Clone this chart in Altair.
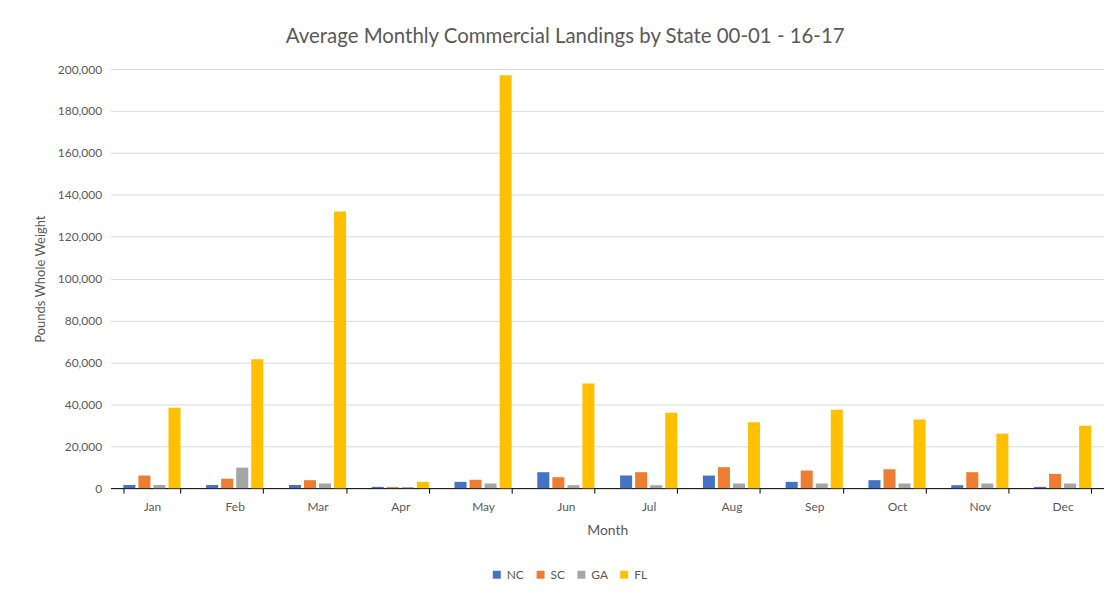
import altair as alt
import pandas as pd

months = ["Jan", "Feb", "Mar", "Apr", "May", "Jun", "Jul", "Aug", "Sep", "Oct", "Nov", "Dec"]
states = ["NC", "SC", "GA", "FL"]
nc = [1500, 1500, 1500, 600, 3000, 7600, 6000, 6000, 3000, 3800, 1400, 600]
sc = [6000, 4500, 3800, 500, 4000, 5200, 7600, 10000, 8400, 9000, 7600, 6800]
ga = [1500, 9800, 2200, 500, 2200, 1400, 1400, 2200, 2200, 2200, 2200, 2200]
fl = [38300, 61500, 132000, 3000, 197000, 49900, 36000, 31400, 37400, 32800, 26000, 29800]
colors = ["#4472C4", "#ED7D31", "#A5A5A5", "#FFC000"]
y_ticks = [0, 20000, 40000, 60000, 80000, 100000, 120000, 140000, 160000, 180000, 200000]

rows = []
for s, vals in zip(states, [nc, sc, ga, fl]):
    for m, v in zip(months, vals):
        rows.append({"Month": m, "State": s, "Value": v})
df = pd.DataFrame(rows)

FONT = "Lato"
TXT = "#595959"

chart = alt.Chart(df).mark_bar().encode(
    x=alt.X("Month:N", sort=months,
            scale=alt.Scale(paddingInner=0.31, paddingOuter=0.155),
            axis=alt.Axis(title="Month", labelAngle=0, tickBand="extent",
                          domainColor="#000000", tickColor="#000000",
                          tickSize=5, labelPadding=8, labelFontSize=12,
                          titleFontSize=14, titleFontWeight="normal",
                          titlePadding=12, labelColor=TXT, titleColor=TXT)),
    xOffset=alt.XOffset("State:N", sort=states,
                        scale=alt.Scale(paddingInner=0.2, paddingOuter=0)),
    y=alt.Y("Value:Q", scale=alt.Scale(domain=[0, 200000]),
            axis=alt.Axis(title="Pounds Whole Weight", format=",d",
                          values=y_ticks, labelOverlap=False,
                          domain=False, ticks=False, labelPadding=9,
                          gridColor="#D9D9D9", labelFontSize=12,
                          titleFontSize=13, titleFontWeight="normal",
                          titlePadding=10, labelColor=TXT, titleColor=TXT)),
    color=alt.Color("State:N", sort=states,
                    scale=alt.Scale(domain=states, range=colors),
                    legend=alt.Legend(title=None, orient="none", direction="horizontal",
                                      legendX=382, legendY=502, padding=0,
                                      symbolType="square", symbolSize=64,
                                      labelFontSize=12, labelColor=TXT,
                                      columnPadding=10)),
).properties(
    width=998, height=421,
    padding={"left": 26, "top": 17, "right": 0, "bottom": 5},
    title=alt.Title("Average Monthly Commercial Landings by State 00-01 - 16-17",
                    fontSize=20.5, fontWeight="normal", color=TXT, offset=16,
                    frame="bounds", anchor="middle", dx=-4),
).configure(font=FONT).configure_view(stroke=None)

chart.save("out.html", embed_options={"renderer": "svg", "actions": False})
